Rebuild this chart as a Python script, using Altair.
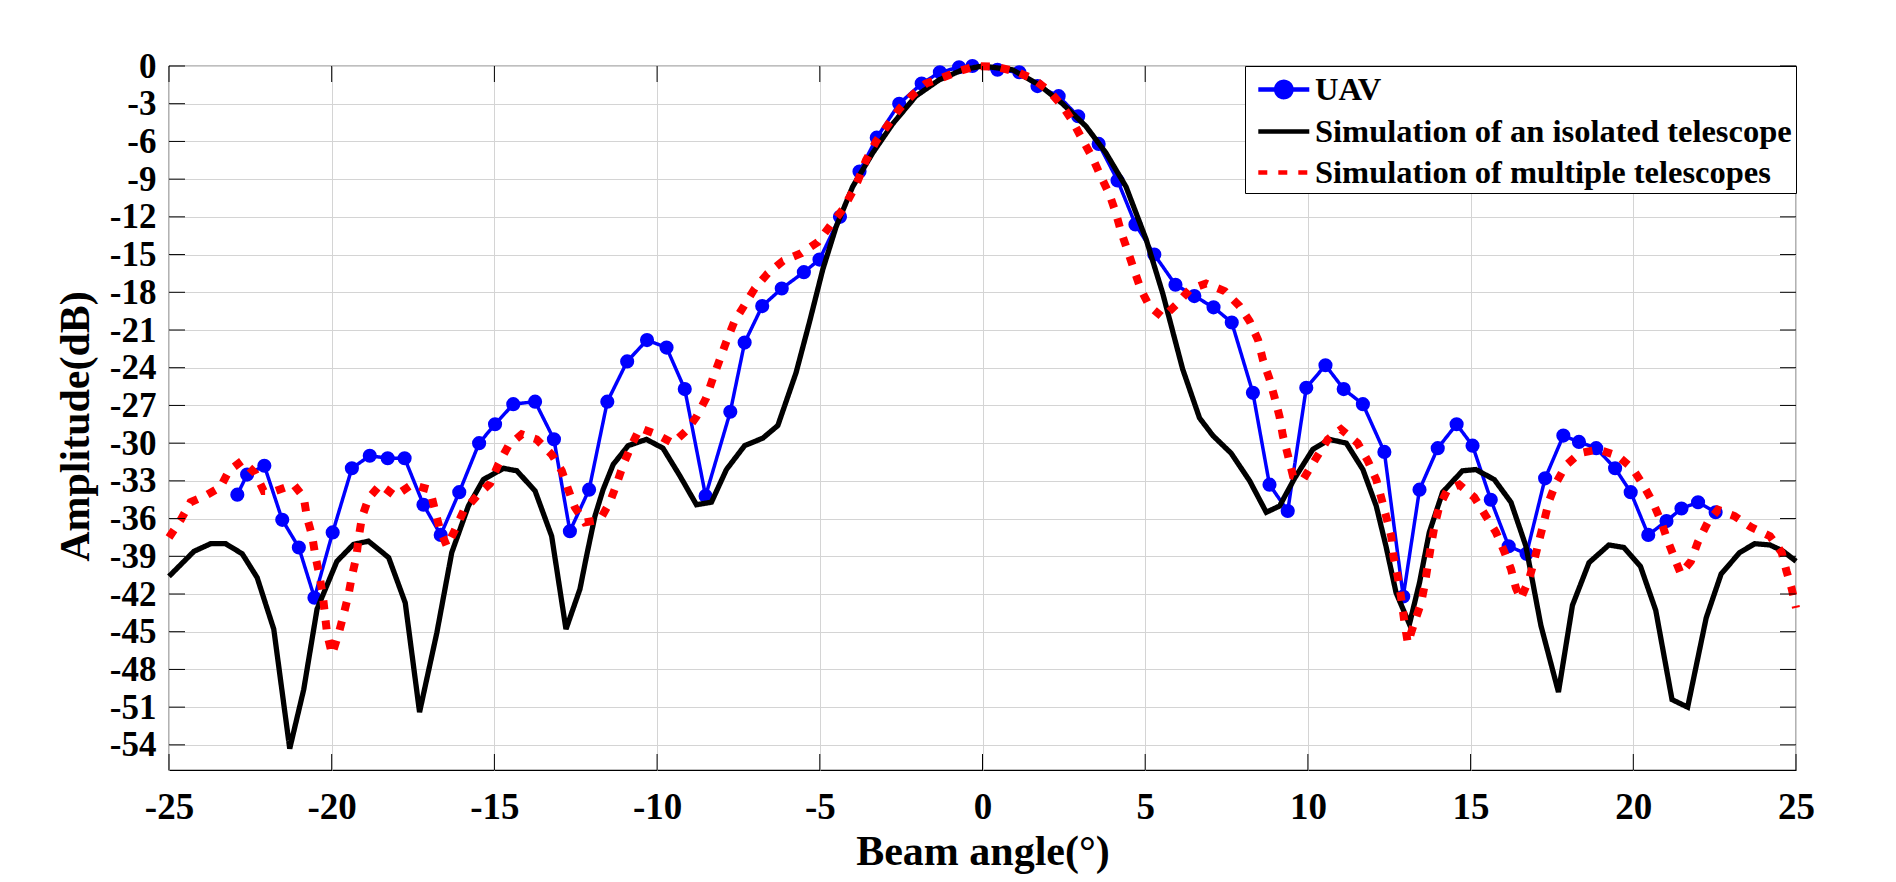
import altair as alt
import pandas as pd

# ---------------- data ----------------
uav_angle = [-22.90, -22.60, -22.07, -21.52, -21.01, -20.53, -19.97, -19.38, -18.83, -18.28,
             -17.76, -17.18, -16.65, -16.08, -15.47, -14.98, -14.42, -13.75, -13.17, -12.68,
             -12.09, -11.53, -10.92, -10.31, -9.71, -9.15, -8.51, -7.75, -7.31, -6.77,
             -6.17, -5.49, -5.01, -4.38, -3.78, -3.25, -2.56, -1.87, -1.31, -0.72,
             -0.31, 0.46, 1.13, 1.69, 2.34, 2.94, 3.57, 4.15, 4.70, 5.28,
             5.93, 6.51, 7.10, 7.66, 8.31, 8.82, 9.38, 9.95, 10.54, 11.10,
             11.69, 12.35, 12.93, 13.43, 13.99, 14.57, 15.06, 15.62, 16.17, 16.72,
             17.29, 17.85, 18.33, 18.86, 19.44, 19.92, 20.46, 21.02, 21.48, 21.99,
             22.53]
uav_db = [-34.1, -32.5, -31.8, -36.1, -38.3, -42.3, -37.1, -32.0, -31.0, -31.2,
          -31.2, -34.9, -37.3, -33.9, -30.0, -28.5, -26.9, -26.7, -29.7, -37.0,
          -33.7, -26.7, -23.5, -21.8, -22.4, -25.7, -34.2, -27.5, -22.0, -19.1,
          -17.7, -16.4, -15.4, -12.0, -8.4, -5.7, -3.0, -1.4, -0.5, -0.1,
          0.0, -0.3, -0.5, -1.6, -2.4, -4.0, -6.2, -9.1, -12.6, -15.0,
          -17.4, -18.3, -19.2, -20.4, -26.0, -33.3, -35.4, -25.6, -23.8, -25.7,
          -26.9, -30.7, -42.2, -33.7, -30.4, -28.5, -30.2, -34.5, -38.2, -38.8,
          -32.8, -29.4, -29.9, -30.4, -32.0, -33.9, -37.3, -36.2, -35.2, -34.7,
          -35.5]

iso_angle = [-25.0, -24.23, -23.72, -23.26, -22.75, -22.29, -21.78, -21.29, -20.86, -20.45,
             -19.84, -19.33, -18.87, -18.25, -17.74, -17.30, -16.77, -16.31, -15.80, -15.34,
             -14.72, -14.31, -13.75, -13.24, -12.80, -12.37, -12.17, -11.91, -11.66, -11.35,
             -10.89, -10.33, -9.82, -9.30, -8.79, -8.33, -7.87, -7.31, -6.75, -6.29,
             -5.73, -5.32, -4.91, -4.50, -3.99, -3.37, -2.76, -2.05, -1.33, -0.61,
             0.0, 0.92, 1.74, 2.46, 3.18, 3.79, 4.41, 5.03, 5.54, 6.15,
             6.67, 7.08, 7.64, 8.21, 8.72, 9.13, 9.59, 10.15, 10.66, 11.18,
             11.69, 12.10, 12.40, 12.71, 13.12, 13.43, 13.73, 14.14, 14.75, 15.16,
             15.73, 16.24, 16.70, 17.16, 17.70, 18.13, 18.64, 19.25, 19.71, 20.22,
             20.69, 21.19, 21.67, 22.24, 22.70, 23.27, 23.73, 24.20, 24.61, 25.0]
iso_db = [-40.6, -38.6, -38.0, -38.0, -38.8, -40.7, -44.8, -54.3, -49.6, -43.2,
          -39.4, -38.05, -37.8, -39.1, -42.7, -51.4, -45.1, -38.7, -35.0, -32.9,
          -32.0, -32.2, -33.8, -37.4, -44.8, -41.6, -39.0, -35.8, -33.7, -31.7,
          -30.2, -29.7, -30.4, -32.6, -34.9, -34.7, -32.1, -30.2, -29.6, -28.6,
          -24.4, -20.4, -16.2, -12.8, -9.6, -6.9, -4.6, -2.4, -1.1, -0.3,
          0.0, -0.3, -1.5, -3.0, -4.8, -6.9, -9.6, -13.8, -18.1, -24.1,
          -28.0, -29.4, -30.8, -33.0, -35.5, -35.0, -32.8, -30.5, -29.7, -30.0,
          -32.1, -35.0, -38.2, -41.9, -44.4, -41.1, -37.1, -33.9, -32.2, -32.1,
          -32.9, -34.7, -38.2, -44.5, -49.8, -42.9, -39.5, -38.1, -38.3, -39.8,
          -43.3, -50.4, -51.0, -43.9, -40.4, -38.7, -38.0, -38.1, -38.6, -39.4]

multi_angle = [-25.0, -24.64, -24.34, -23.82, -23.42, -23.16, -22.75, -22.35, -22.09, -21.73,
               -21.17, -20.86, -20.76, -20.60, -20.50, -20.37, -20.27, -20.14, -19.99, -19.79,
               -19.63, -19.48, -19.38, -19.24, -19.17, -19.07, -18.87, -18.51, -18.05, -17.54,
               -16.98, -16.83, -16.67, -16.46, -16.21, -15.95, -15.54, -15.13, -14.88, -14.57,
               -14.16, -13.70, -13.24, -12.93, -12.73, -12.53, -12.22, -11.76, -11.45, -11.25,
               -11.04, -10.79, -10.53, -10.02, -9.51, -9.10, -8.79, -8.49, -8.28, -8.08,
               -7.87, -7.62, -7.31, -7.00, -6.60, -6.13, -5.57, -5.06, -4.65, -4.29,
               -3.89, -3.58, -3.27, -2.91, -2.55, -2.15, -1.74, -1.30, -0.77, -0.20,
               0.41, 1.03, 1.54, 2.05, 2.46, 2.77, 3.08, 3.38, 3.64, 3.90,
               4.10, 4.26, 4.46, 4.67, 4.87, 5.13, 5.54, 5.95, 6.36, 6.87,
               7.44, 7.90, 8.21, 8.47, 8.62, 8.82, 8.98, 9.13, 9.23, 9.39,
               9.54, 9.85, 10.25, 10.61, 11.02, 11.53, 11.84, 12.10, 12.25, 12.40,
               12.56, 12.63, 12.76, 12.86, 12.97, 13.07, 13.27, 13.48, 13.58, 13.68,
               13.78, 13.89, 14.04, 14.29, 14.65, 15.11, 15.47, 15.78, 16.03, 16.24,
               16.39, 16.54, 16.80, 16.95, 17.11, 17.26, 17.41, 17.62, 17.92, 18.35,
               18.92, 19.51, 19.97, 20.30, 20.60, 20.85, 21.05, 21.26, 21.46, 21.77,
               21.98, 22.29, 22.60, 23.11, 23.63, 24.20, 24.56, 24.71, 24.87, 25.0]
multi_db = [-37.5, -36.1, -34.7, -34.1, -33.5, -32.2, -31.4, -32.4, -33.8, -33.8,
            -33.3, -34.3, -35.9, -37.4, -39.0, -40.6, -42.2, -45.2, -46.8, -45.2,
            -43.6, -42.0, -40.6, -39.0, -37.5, -35.9, -34.4, -33.3, -34.2, -33.3,
            -33.7, -35.3, -36.9, -38.2, -36.9, -35.4, -34.2, -33.2, -31.7, -30.2,
            -29.3, -29.7, -30.9, -32.2, -33.7, -35.1, -36.3, -36.1, -34.7, -33.3,
            -31.7, -30.2, -28.8, -29.3, -30.0, -29.0, -27.9, -26.4, -24.8, -23.4,
            -21.9, -20.3, -19.0, -17.7, -16.5, -15.5, -14.9, -14.0, -12.6, -11.4,
            -9.5, -7.5, -6.0, -4.7, -3.4, -2.3, -1.4, -1.0, -0.45, 0.0,
            -0.05, -0.45, -1.0, -2.0, -3.2, -4.4, -5.9, -7.3, -8.8, -10.2,
            -11.7, -13.2, -14.7, -16.3, -17.8, -19.1, -20.0, -19.0, -17.8, -17.3,
            -17.9, -19.1, -20.3, -21.8, -23.4, -24.9, -26.4, -27.9, -29.4, -31.0,
            -32.6, -32.9, -31.2, -29.7, -28.9, -30.0, -31.4, -32.9, -34.3, -35.8,
            -37.4, -39.0, -40.6, -42.2, -44.3, -45.9, -44.3, -42.7, -41.4, -39.8,
            -38.2, -36.6, -35.0, -33.7, -33.3, -34.3, -35.8, -37.1, -38.6, -40.0,
            -41.5, -42.4, -40.8, -39.4, -37.7, -36.2, -34.6, -33.2, -31.8, -30.8,
            -30.5, -31.0, -32.0, -33.3, -34.7, -36.2, -37.7, -39.1, -40.4, -39.4,
            -37.9, -36.3, -35.3, -35.8, -36.7, -37.4, -38.7, -40.2, -41.6, -43.1]

series_names = ["UAV", "Simulation of an isolated telescope", "Simulation of multiple telescopes"]
series_colors = ["#0000ff", "#000000", "#ff0000"]
series_dashes = [[1, 0], [1, 0], [9, 11]]
series_shapes = ["M-0.6,0L2.4,0M0.45,0A0.45,0.45,0,1,1,1.35,0A0.45,0.45,0,1,1,0.45,0Z",
                 "M-0.6,0L2.4,0", "M-0.6,0L2.4,0"]
x_ticks = [-25, -20, -15, -10, -5, 0, 5, 10, 15, 20, 25]
y_ticks = [0, -3, -6, -9, -12, -15, -18, -21, -24, -27, -30, -33, -36, -39, -42, -45, -48, -51, -54]

# ---------------- tables ----------------
uav = pd.DataFrame({"angle": uav_angle, "amp": uav_db, "series": series_names[0]})
iso = pd.DataFrame({"angle": iso_angle, "amp": iso_db, "series": series_names[1]})
multi = pd.DataFrame({"angle": multi_angle, "amp": multi_db, "series": series_names[2]})
xt = pd.DataFrame({"angle": x_ticks})
yt = pd.DataFrame({"amp": y_ticks})

W, H = 1627, 704
FONT = "Liberation Serif"

xscale = alt.Scale(domain=[-25, 25], nice=False, zero=False)
yscale = alt.Scale(domain=[-56, 0], nice=False, zero=False)

x_axis = alt.Axis(values=x_ticks, grid=True, domain=False, ticks=False, tickSize=0,
                  labelPadding=19, labelFontSize=37, labelFont=FONT, labelFontWeight="bold",
                  labelColor="black", labelExpr="'' + datum.value", labelFlush=False,
                  labelOverlap=False,
                  title="Beam angle(°)", titleFont=FONT, titleFontWeight="bold", titleFontSize=42,
                  titleColor="black", titleX=W / 2, titleY=94, titleBaseline="alphabetic",
                  titleAlign="center")
y_axis = alt.Axis(values=y_ticks, grid=True, domain=False, ticks=False, tickSize=0,
                  labelPadding=13, labelFontSize=35, labelFont=FONT, labelFontWeight="bold",
                  labelColor="black", labelExpr="'' + datum.value", labelFlush=False,
                  labelOverlap=False,
                  title="Amplitude(dB)", titleFont=FONT, titleFontWeight="bold", titleFontSize=42,
                  titleColor="black", titleAngle=270, titleX=-81, titleY=360,
                  titleBaseline="alphabetic", titleAlign="center")

legend = alt.Legend(
    title=None, orient="top-right", offset=0, padding=4,
    labelFont=FONT, labelFontWeight="bold", labelFontSize=32.5, labelColor="black",
    labelLimit=800, labelOffset=27, symbolSize=1156, symbolStrokeWidth=4.5,
    symbolFillColor="#0000ff", fillColor="white", strokeColor="black",
)

color = alt.Color("series:N", scale=alt.Scale(domain=series_names, range=series_colors), legend=legend)
dash = alt.StrokeDash("series:N", scale=alt.Scale(domain=series_names, range=series_dashes), legend=legend)
shape = alt.Shape("series:N", scale=alt.Scale(domain=series_names, range=series_shapes), legend=legend)

bx = alt.X("angle:Q", scale=xscale, axis=x_axis)
by = alt.Y("amp:Q", scale=yscale, axis=y_axis)

uav_line = alt.Chart(uav).mark_line(strokeWidth=3.5).encode(x=bx, y=by, color=color, strokeDash=dash)
uav_pts = alt.Chart(uav).mark_point(filled=True, size=200, color="#0000ff", opacity=1).encode(x=bx, y=by)
iso_line = alt.Chart(iso).mark_line(strokeWidth=5.3).encode(x=bx, y=by, color=color, strokeDash=dash)
multi_line = alt.Chart(multi).mark_line(strokeWidth=8, strokeCap="butt").encode(
    x=bx, y=by, color=color, strokeDash=dash)
legend_shape = alt.Chart(uav).mark_point(filled=True, opacity=1).encode(
    x=bx, y=by, color=color, shape=shape).transform_filter("false")

tick_len = 16
xt_bottom = alt.Chart(xt).mark_rule(color="black", strokeWidth=1).encode(
    x=bx, y=alt.value(H), y2=alt.value(H - tick_len))
xt_top = alt.Chart(xt).mark_rule(color="black", strokeWidth=1).encode(
    x=bx, y=alt.value(0), y2=alt.value(tick_len))
yt_left = alt.Chart(yt).mark_rule(color="black", strokeWidth=1).encode(
    y=by, x=alt.value(0), x2=alt.value(tick_len))
yt_right = alt.Chart(yt).mark_rule(color="black", strokeWidth=1).encode(
    y=by, x=alt.value(W), x2=alt.value(W - tick_len))

chart = alt.layer(
    uav_line, uav_pts, iso_line, multi_line, legend_shape,
    xt_bottom, xt_top, yt_left, yt_right,
).properties(
    width=W, height=H,
    autosize=alt.AutoSizeParams(type="none"),
    padding={"left": 161, "top": 58, "right": 60, "bottom": 104},
    background="white",
).configure_view(
    stroke="black", strokeWidth=1.2,
).configure_axis(
    gridColor="#d4d4d4", gridWidth=1, gridOpacity=1,
).configure_legend(
    rowPadding=5,
)

chart.save("out.html", embed_options={"renderer": "svg", "actions": False})
